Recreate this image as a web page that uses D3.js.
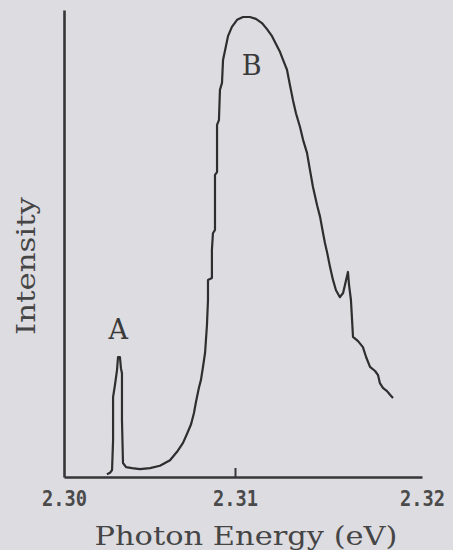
<!DOCTYPE html>
<html>
<head>
<meta charset="utf-8">
<script src="https://cdn.jsdelivr.net/npm/d3@7"></script>
<style>
  html, body { margin: 0; padding: 0; background: #dddce1; }
  svg { display: block; }
</style>
</head>
<body>
<svg id="chart" width="453" height="550"></svg>
<script>
// ---- data ----
const energy = [
  2.30251, 2.30269, 2.30281, 2.30287, 2.30287, 2.30298, 2.30310, 2.30316, 2.30327, 2.30333,
  2.30339, 2.30339, 2.30345, 2.30363, 2.30398, 2.30444, 2.30503, 2.30561, 2.30620, 2.30661,
  2.30696, 2.30719, 2.30743, 2.30760, 2.30772, 2.30789, 2.30801, 2.30813, 2.30825, 2.30830,
  2.30836, 2.30842, 2.30842, 2.30865, 2.30865, 2.30871, 2.30883, 2.30883, 2.30895, 2.30895,
  2.30906, 2.30912, 2.30924, 2.30930, 2.30942, 2.30959, 2.30982, 2.31011, 2.31043, 2.31080,
  2.31112, 2.31144, 2.31171, 2.31198, 2.31219, 2.31241, 2.31257, 2.31278, 2.31294, 2.31310,
  2.31326, 2.31348, 2.31364, 2.31385, 2.31401, 2.31417, 2.31439, 2.31455, 2.31471, 2.31481,
  2.31492, 2.31508, 2.31524, 2.31540, 2.31561, 2.31578, 2.31588, 2.31604, 2.31610, 2.31620,
  2.31626, 2.31631, 2.31658, 2.31684, 2.31701, 2.31722, 2.31749, 2.31765, 2.31775, 2.31791,
  2.31813, 2.31829, 2.31845
];
const intensity = [
  0.6, 0.9, 1.5, 7.9, 17.1, 19.7, 22.9, 25.7, 25.7, 23.3,
  22.2, 12.2, 3.0, 2.1, 1.9, 1.7, 1.9, 2.4, 3.6, 5.4,
  7.3, 9.2, 11.3, 13.7, 16.1, 19.1, 20.8, 23.6, 26.6, 29.3,
  32.5, 37.9, 42.2, 42.6, 48.6, 52.2, 52.9, 64.7, 65.3, 75.4,
  76.4, 82.9, 84.4, 89.3, 91.4, 94.4, 96.4, 97.9, 98.5, 98.5,
  98.1, 97.2, 95.9, 94.4, 92.7, 91.0, 89.3, 87.2, 83.9, 80.7,
  77.9, 74.9, 72.2, 69.4, 65.7, 62.1, 58.2, 55.7, 52.2, 50.1,
  48.2, 45.0, 42.2, 40.0, 38.5, 39.4, 41.1, 43.9, 41.1, 37.9,
  33.6, 30.0, 29.1, 27.8, 25.7, 23.6, 22.7, 21.8, 20.1, 19.1,
  18.4, 17.6, 16.9
];
const xTicks = [2.30, 2.31, 2.32];
const xTickLabels = ["2.30", "2.31", "2.32"];
const peakLabels = ["A", "B"];
const peakLabelEnergy = [2.30317, 2.31089];
const peakLabelIntensity = [29.6, 86.1];

// ---- chart ----
const svg = d3.select("#chart");
const ink = "#363636";

const x = d3.scaleLinear().domain([2.30, 2.31, 2.32]).range([64, 235, 422]);
const y = d3.scaleLinear().domain([0, 100]).range([477, 10]);

// y axis (no ticks)
svg.append("g")
  .attr("transform", "translate(64,0)")
  .call(d3.axisLeft(y).tickValues([]).tickSizeOuter(0))
  .call(g => g.select(".domain").attr("stroke", ink).attr("stroke-width", 2.6));

// x axis
const xa = svg.append("g")
  .attr("transform", "translate(0,477)")
  .call(d3.axisBottom(x).tickValues(xTicks).tickFormat((d, i) => xTickLabels[i])
        .tickSizeInner(-9).tickSizeOuter(0).tickPadding(13));
xa.select(".domain").attr("stroke", ink).attr("stroke-width", 2.6);
xa.selectAll(".tick line").attr("stroke", ink).attr("stroke-width", 2)
  .filter(d => d !== 2.31).remove();
xa.selectAll(".tick text")
  .attr("fill", "#4a4a4a")
  .attr("font-family", "'DejaVu Sans Mono', 'Liberation Mono', monospace")
  .attr("font-weight", "bold")
  .attr("font-size", 22)
  .attr("dy", "0.71em")
  .attr("textLength", 45)
  .attr("lengthAdjust", "spacingAndGlyphs");

// spectrum
const pts = energy.map((e, i) => [e, intensity[i]]);
svg.append("path")
  .datum(pts)
  .attr("fill", "none")
  .attr("stroke", "#2e2e2e")
  .attr("stroke-width", 2.2)
  .attr("stroke-linejoin", "round")
  .attr("d", d3.line().x(d => x(d[0])).y(d => y(d[1])));

// peak labels
svg.selectAll(".peak")
  .data(peakLabels)
  .join("text")
  .attr("class", "peak")
  .attr("x", (d, i) => x(peakLabelEnergy[i]))
  .attr("y", (d, i) => y(peakLabelIntensity[i]))
  .attr("text-anchor", "middle")
  .attr("font-family", "'DejaVu Serif', 'Liberation Serif', serif")
  .attr("font-size", 27)
  .attr("fill", "#3a3a3a")
  .text(d => d);

// axis titles
svg.append("text")
  .attr("x", 246).attr("y", 545)
  .attr("text-anchor", "middle")
  .attr("font-family", "'DejaVu Serif', 'Liberation Serif', serif")
  .attr("font-size", 26)
  .attr("fill", "#454545")
  .attr("textLength", 303)
  .attr("lengthAdjust", "spacingAndGlyphs")
  .text("Photon Energy (eV)");

svg.append("text")
  .attr("transform", "translate(35,266) rotate(-90)")
  .attr("text-anchor", "middle")
  .attr("font-family", "'DejaVu Serif', 'Liberation Serif', serif")
  .attr("font-size", 26)
  .attr("fill", "#454545")
  .attr("textLength", 138)
  .attr("lengthAdjust", "spacingAndGlyphs")
  .text("Intensity");
</script>
</body>
</html>
